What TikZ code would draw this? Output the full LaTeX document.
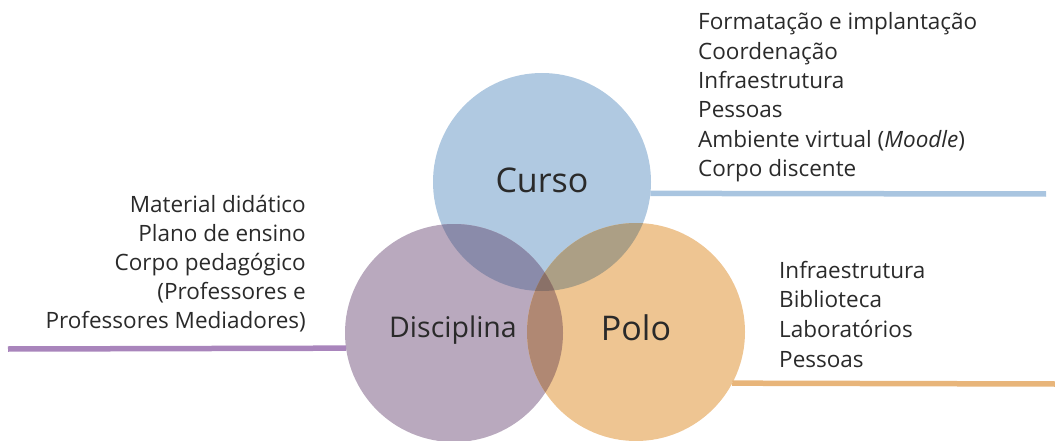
\documentclass[tikz,border=0pt]{standalone}
\usepackage{fontspec}
\setmainfont{Open Sans}
\definecolor{cblue}{HTML}{B0C9E1}
\definecolor{cpurple}{HTML}{B9A9BE}
\definecolor{corange}{HTML}{EEC592}
\definecolor{cbd}{HTML}{8A8BAA}
\definecolor{cbp}{HTML}{AC9F85}
\definecolor{cdp}{HTML}{B08873}
\definecolor{cbdp}{HTML}{8A7168}
\definecolor{lblue}{HTML}{A9C5E0}
\definecolor{lpurple}{HTML}{A985BC}
\definecolor{lorange}{HTML}{E8B57A}
\definecolor{txt}{HTML}{2A2A2A}
\tikzset{
  blob/.style={circle, minimum size=218pt, inner sep=0pt, outer sep=0pt},
  item/.style={inner sep=0pt, text=txt, font=\fontsize{22.5}{29}\selectfont},
  biglabel/.style={inner sep=0pt, text=txt, font=\fontsize{34}{36}\selectfont},
  midlabel/.style={inner sep=0pt, text=txt, font=\fontsize{28.5}{31}\selectfont},
  conn/.style={line width=5.5pt}
}
\begin{document}
\begin{tikzpicture}[x=1pt,y=-1pt]
\useasboundingbox (0,0) rectangle (1055,441);
% circles
\node[blob, fill=cblue] (curso) at (542,182) {};
\node[blob, fill=cpurple] (disc) at (454,333) {};
\node[blob, fill=corange] (polo) at (636,332) {};
% overlaps
\begin{scope}
  \clip (curso.center) circle (109pt);
  \fill[cbd] (disc.center) circle (109pt);
\end{scope}
\begin{scope}
  \clip (curso.center) circle (109pt);
  \fill[cbp] (polo.center) circle (109pt);
\end{scope}
\begin{scope}
  \clip (disc.center) circle (109pt);
  \fill[cdp] (polo.center) circle (109pt);
\end{scope}
\begin{scope}
  \clip (curso.center) circle (109pt);
  \clip (disc.center) circle (109pt);
  \fill[cbdp] (polo.center) circle (109pt);
\end{scope}
% labels
\node[biglabel] (lcurso) at (542,180) {Curso};
\node[midlabel] (ldisc) at (453,330) {Disciplina};
\node[biglabel] (lpolo) at (636,328) {Polo};
% connectors
\coordinate (cursoend) at (1046,194);
\coordinate (discend) at (8,349);
\coordinate (poloend) at (1055,384);
\draw[conn, lblue] (curso.-6) -- (cursoend);
\draw[conn, lpurple] (disc.188.4) -- (discend);
\draw[conn, lorange] (polo.-28.5) -- (poloend);
% text blocks
\node[item, anchor=base west] (c1) at (698,30) {Formatação e implantação};
\node[item, anchor=base west] (c2) at (698,59.3) {Coordenação};
\node[item, anchor=base west] (c3) at (698,88.6) {Infraestrutura};
\node[item, anchor=base west] (c4) at (698,117.9) {Pessoas};
\node[item, anchor=base west] (c5) at (698,147.2) {Ambiente virtual (\textit{Moodle})};
\node[item, anchor=base west] (c6) at (698,176.5) {Corpo discente};
\node[item, anchor=base east] (d1) at (306,212) {Material didático};
\node[item, anchor=base east] (d2) at (306,241) {Plano de ensino};
\node[item, anchor=base east] (d3) at (306,270) {Corpo pedagógico};
\node[item, anchor=base east] (d4) at (306,299) {(Professores e\ };
\node[item, anchor=base east] (d5) at (306,328) {Professores Mediadores)};
\node[item, anchor=base west] (p1) at (779,278) {Infraestrutura};
\node[item, anchor=base west] (p2) at (779,307.7) {Biblioteca};
\node[item, anchor=base west] (p3) at (779,337.4) {Laboratórios};
\node[item, anchor=base west] (p4) at (779,367) {Pessoas};
\end{tikzpicture}
\end{document}
